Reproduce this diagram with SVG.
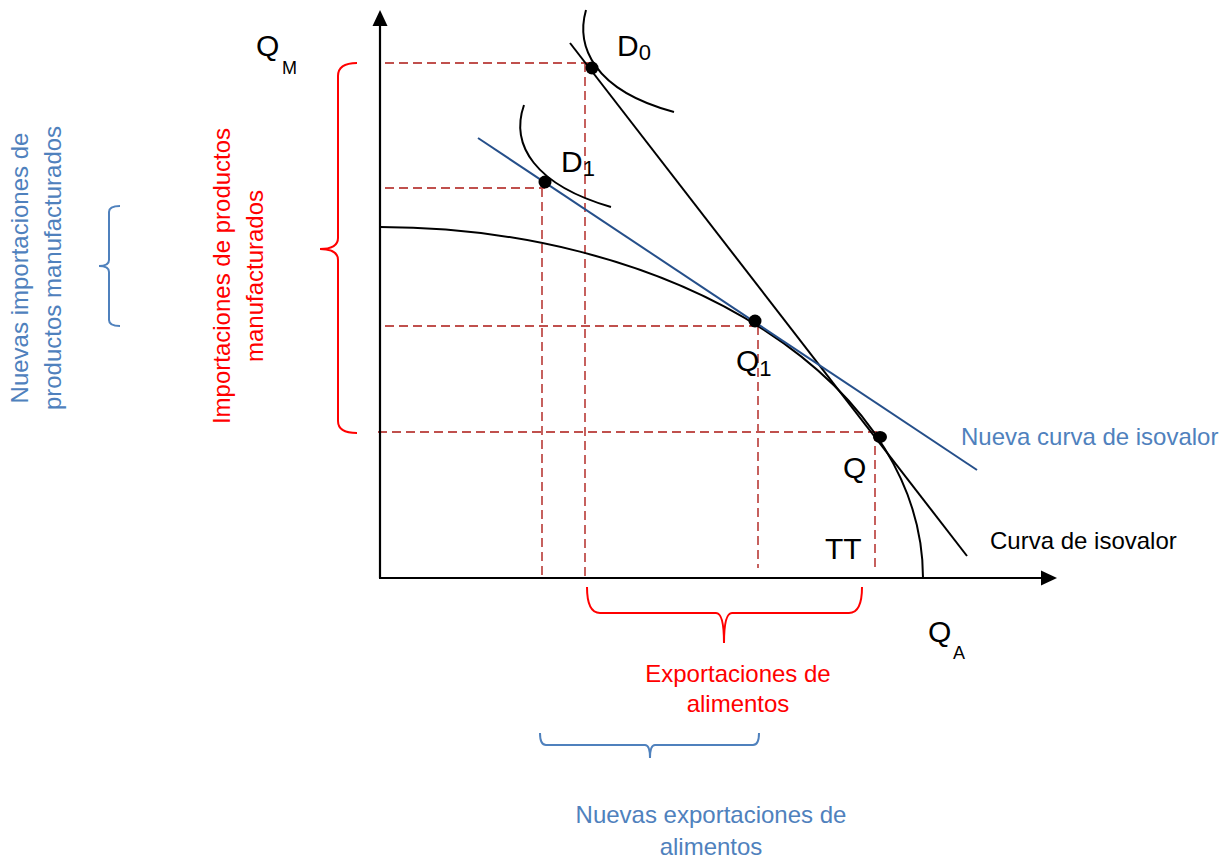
<svg xmlns="http://www.w3.org/2000/svg" width="1223" height="862" viewBox="0 0 1223 862">
<style>
text{font-family:"Liberation Sans",Arial,sans-serif;}
.lbl{font-size:30px;fill:#000;}
.sub{font-size:18px;fill:#000;}
.red{font-size:24px;fill:#ff0000;}
.blue{font-size:24px;fill:#4f81bd;}
.blk{font-size:24px;fill:#000;}
.dash{stroke:#c0504d;stroke-width:1.8;stroke-dasharray:9 5;fill:none;}
.curve{stroke:#000;stroke-width:2;fill:none;}
.dot{fill:#000;}
</style>
<rect width="1223" height="862" fill="#fff"/>
<g id="guides">
<path class="dash" d="M385,63 H593 M585,63 V578"/>
<path class="dash" d="M385,188 H545 M542,188 V578"/>
<path class="dash" d="M385,326 H755 M758,326 V568"/>
<path class="dash" d="M378,432 H880 M875,432 V568"/>
</g>
<g id="axes">
<line x1="380" y1="578" x2="380" y2="24" stroke="#000" stroke-width="2.2"/>
<polygon points="380,10 372.5,26 387.5,26" fill="#000"/>
<line x1="379" y1="578" x2="1043" y2="578" stroke="#000" stroke-width="2.2"/>
<polygon points="1057,578 1041,570.5 1041,585.5" fill="#000"/>
</g>
<g id="connectors">
<path id="frontier" class="curve" d="M380,227 A543,351 0 0 1 923,578"/>
<line id="isovalor" x1="570" y1="43" x2="967" y2="556" stroke="#000" stroke-width="2"/>
<line id="nueva-isovalor" x1="478" y1="138" x2="977" y2="470" stroke="#254f8a" stroke-width="2"/>
<path id="indiff-D0" class="curve" d="M586,10 C576,45 592,90 674,112"/>
<path id="indiff-D1" class="curve" d="M524,105 C510,145 535,185 611,207"/>
</g>
<g id="D0"><circle class="dot" cx="592" cy="68" r="6.5"/><text class="lbl" x="617" y="56">D<tspan font-size="22" dy="4">0</tspan></text></g>
<g id="D1"><circle class="dot" cx="545" cy="182" r="6.5"/><text class="lbl" x="561" y="172">D<tspan font-size="22" dy="4">1</tspan></text></g>
<g id="Q1"><circle class="dot" cx="755" cy="321" r="6.5"/><text class="lbl" x="736" y="371">Q<tspan font-size="22" dy="5">1</tspan></text></g>
<g id="Q"><ellipse class="dot" cx="880" cy="437" rx="7" ry="6"/><text class="lbl" x="843" y="478">Q</text></g>
<g id="TT"><text class="lbl" x="825" y="559">TT</text></g>
<g id="QM"><text class="lbl" x="256" y="56">Q</text><text class="sub" x="282" y="74">M</text></g>
<g id="QA"><text class="lbl" x="928" y="642">Q</text><text class="sub" x="953" y="659">A</text></g>
<g id="label-nueva"><text class="blue" x="961" y="445">Nueva curva de isovalor</text></g>
<g id="label-curva"><text class="blk" x="990" y="549">Curva de isovalor</text></g>
<g id="brace-importaciones">
<path d="M357,63 Q338,63 338,76 L338,238 Q338,249 320,249 Q338,249 338,260 L338,421 Q338,433 357,433" fill="none" stroke="#ff0000" stroke-width="2"/>
<text class="red" transform="translate(230,276) rotate(-90)" text-anchor="middle">Importaciones de productos</text>
<text class="red" transform="translate(263,276) rotate(-90)" text-anchor="middle">manufacturados</text>
</g>
<g id="brace-nuevas-importaciones">
<path d="M120,206 Q109,206 109,212 L109,260 Q109,266 99,266 Q109,266 109,272 L109,320 Q109,326 120,326" fill="none" stroke="#4f81bd" stroke-width="2"/>
<text class="blue" transform="translate(28,268) rotate(-90)" text-anchor="middle">Nuevas importaciones de</text>
<text class="blue" transform="translate(61,268) rotate(-90)" text-anchor="middle">productos manufacturados</text>
</g>
<g id="brace-exportaciones">
<path d="M587,587 Q587,613 600,613 L716,613 Q724,613 724,643 Q724,613 732,613 L849,613 Q862,613 862,587" fill="none" stroke="#ff0000" stroke-width="2"/>
<text class="red" x="738" y="682" text-anchor="middle">Exportaciones de</text>
<text class="red" x="738" y="712" text-anchor="middle">alimentos</text>
</g>
<g id="brace-nuevas-exportaciones">
<path d="M540,733 Q540,745 546,745 L645,745 Q650,745 650,758 Q650,745 655,745 L753,745 Q759,745 759,733" fill="none" stroke="#4f81bd" stroke-width="2"/>
<text class="blue" x="711" y="823" text-anchor="middle">Nuevas exportaciones de</text>
<text class="blue" x="711" y="855" text-anchor="middle">alimentos</text>
</g>
</svg>
